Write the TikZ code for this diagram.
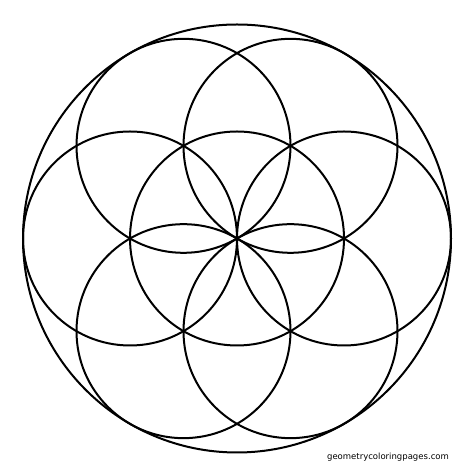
\documentclass[tikz,border=0pt]{standalone}
\usepackage{fontspec}
\newfontfamily\sitefont{DejaVu Sans}
\usepackage{tikz}

\begin{document}
\begin{tikzpicture}[x=1pt,y=1pt,line width=2pt]
            \useasboundingbox (0,0) rectangle (474,473);
            \coordinate (c) at (237,234.5);
            \draw (c) circle (214);
            \draw (c) circle (107);
            \foreach \a in {0,60,...,300}
              \draw (c) ++(\a:107) circle (107);
            \node[anchor=base,inner sep=0pt,font=\sitefont\fontsize{8.5}{10}\selectfont] (site) at (388,13.7) {geometrycoloringpages.com};
          \end{tikzpicture}
\end{document}
